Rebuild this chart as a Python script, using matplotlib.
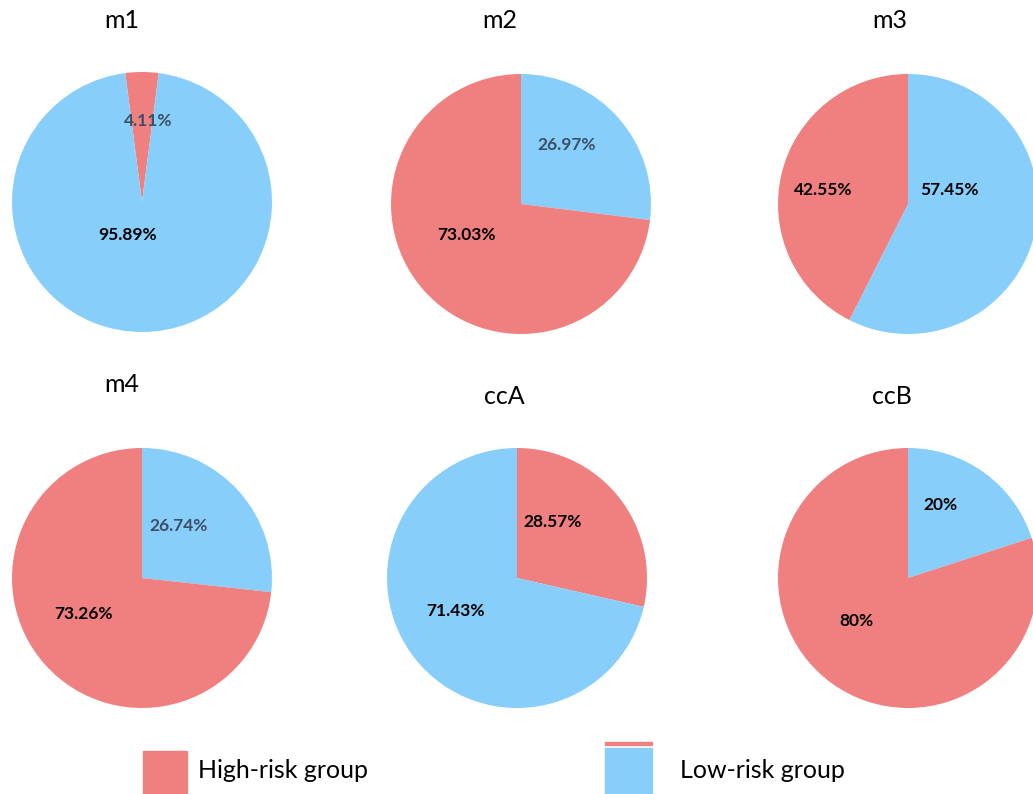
import matplotlib
matplotlib.use("Agg")
import matplotlib.pyplot as plt
from matplotlib.patches import Rectangle

plt.rcParams["font.family"] = ["Lato", "DejaVu Sans"]

# Risk-group share per model (percent)
names = ["m1", "m2", "m3", "m4", "ccA", "ccB"]
high_risk = [4.11, 73.03, 42.55, 73.26, 28.57, 80]
low_risk = [95.89, 26.97, 57.45, 26.74, 71.43, 20]
# which group is drawn first, clockwise from the top
first_group = ["high", "low", "low", "low", "high", "low"]

HIGH_COLOR = "#f08080"
LOW_COLOR = "#87cefa"
DIM = "#3d4f66"

W, H = 1033, 794
fig = plt.figure(figsize=(W / 100, H / 100), dpi=100)

# pie centres and titles in pixels (from top-left)
centres = [(142, 202), (521, 204), (908, 204), (142, 578), (517, 578), (908, 578)]
title_pos = [(122, 20), (500, 20), (890, 20), (122, 385), (504, 397), (892, 397)]
R = 130
# label offsets in units of radius: (high label, low label)
label_xy = [
    ((0.05, 0.62), (-0.11, -0.25)),
    ((-0.42, -0.24), (0.35, 0.45)),
    ((-0.65, 0.11), (0.32, 0.11)),
    ((-0.45, -0.28), (0.28, 0.40)),
    ((0.27, 0.43), (-0.47, -0.25)),
    ((-0.40, -0.33), (0.25, 0.56)),
]
label_color = [
    (DIM, "black"),
    ("black", DIM),
    ("black", "black"),
    ("black", DIM),
    ("black", "black"),
    ("black", "black"),
]

for i, name in enumerate(names):
    cx, cy = centres[i]
    ax = fig.add_axes([(cx - R) / W, 1 - (cy + R) / H, 2 * R / W, 2 * R / H])
    hi, lo = high_risk[i], low_risk[i]
    if first_group[i] == "high":
        vals, cols = [hi, lo], [HIGH_COLOR, LOW_COLOR]
    else:
        vals, cols = [lo, hi], [LOW_COLOR, HIGH_COLOR]
    start = 90
    if name == "m1":
        # small wedge centred on the top
        start = 90 + hi / 100 * 360 / 2
    ax.pie(vals, colors=cols, startangle=start, counterclock=False,
           radius=1, wedgeprops=dict(linewidth=0))
    ax.set_xlim(-1, 1)
    ax.set_ylim(-1, 1)
    ax.set_aspect("auto")
    ax.axis("off")

    for val, (x, y), c in zip([hi, lo], label_xy[i], label_color[i]):
        ax.text(x, y, f"{val:g}%", ha="center", va="center",
                fontsize=12.5, fontweight="bold", color=c)

    tx, ty = title_pos[i]
    fig.text(tx / W, 1 - ty / H, name, ha="center", va="center", fontsize=18)

# legend drawn as figure patches
fig.patches.append(Rectangle((143 / W, 0), 44 / W, 43 / H,
                             transform=fig.transFigure, color=HIGH_COLOR))
fig.text(198 / W, 1 - 770 / H, "High-risk group", ha="left", va="center",
         fontsize=18)
fig.patches.append(Rectangle((605 / W, 0), 47 / W, 46 / H,
                             transform=fig.transFigure, color=LOW_COLOR))
fig.patches.append(Rectangle((605 / W, 1 - 745 / H), 47 / W, 3 / H,
                             transform=fig.transFigure, color=HIGH_COLOR))
fig.text(680 / W, 1 - 770 / H, "Low-risk group", ha="left", va="center",
         fontsize=18)

fig.savefig("out.png", dpi=100)
